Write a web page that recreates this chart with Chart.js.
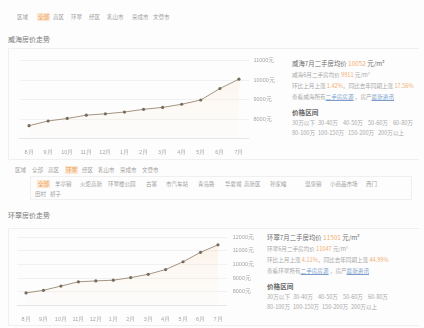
<!DOCTYPE html>
<html>
<head>
<meta charset="utf-8">
<script src="https://cdn.jsdelivr.net/npm/chart.js@4"></script>
<style>
  body { margin: 0; width: 424px; height: 328px; background: #fdfdfd; position: relative; overflow: hidden;
         font-family: "Noto Sans CJK SC", sans-serif; color: #8a8a8a; }
  .abs { position: absolute; white-space: nowrap; line-height: 1; }
  .nav span { position: absolute; font-size: 5.5px; color: #a0a0a0; }
  .nav .on { background: #fbe6d0; color: #eb9a55; padding: 0 1px; }
  .title { font-size: 7px; color: #7a7a7a; }
  .panel { position: absolute; border: 1px solid #f0f0f0; border-right: none; }
  .info div { position: absolute; font-size: 5.6px; color: #a8a8a8; white-space: nowrap; }
  .info .big { font-size: 6.4px; color: #6e6e6e; }
  .info .or { color: #f2ad72; }
  .info .lk { color: #7c9dcc; text-decoration: underline; }
  .info .hd { font-size: 6.6px; color: #666; font-weight: bold; }
  canvas { position: absolute; }
</style>
</head>
<body>
<div class="nav" id="nav1"></div>
<div class="abs title" style="left:8px;top:36px;">威海房价走势</div>
<div class="panel" style="left:8px;top:48px;width:410px;height:110px;"></div>
<canvas id="chart1" width="276" height="110" style="left:8px;top:48px;"></canvas>
<div class="info">
  <div class="big" style="left:292px;top:59px;">威海7月二手房均价 <span class="or">10052</span> 元/m²</div>
  <div style="left:292px;top:71px;">威海6月二手房均价 <span class="or">9911</span> 元/m²</div>
  <div style="left:292px;top:82px;">环比上月上涨 <span class="or">1.42%</span>，同比去年同期上涨 <span class="or">17.56%</span></div>
  <div style="left:292px;top:93px;">查看威海所有<span class="lk">二手房房源</span> ，房产<span class="lk">最新资讯</span></div>
  <div class="hd" style="left:292px;top:107px;">价格区间</div>
  <div style="left:292px;top:119px;">30万以下</div>
  <div style="left:318px;top:119px;">30-40万</div>
  <div style="left:343px;top:119px;">40-50万</div>
  <div style="left:368px;top:119px;">50-60万</div>
  <div style="left:393px;top:119px;">60-80万</div>
  <div style="left:292px;top:129px;">80-100万</div>
  <div style="left:318px;top:129px;">100-150万</div>
  <div style="left:348px;top:129px;">150-200万</div>
  <div style="left:378px;top:129px;">200万以上</div>
</div>

<div class="nav" id="nav2"></div>
<div class="panel" style="left:30px;top:176px;width:380px;height:22px;border-right:1px solid #f0f0f0;"></div>
<div class="nav" id="nav3"></div>
<div class="abs title" style="left:8px;top:212px;">环翠房价走势</div>
<div class="panel" style="left:8px;top:228px;width:410px;height:96px;"></div>
<canvas id="chart2" width="250" height="94" style="left:8px;top:228px;"></canvas>
<div class="info">
  <div class="big" style="left:267px;top:233px;">环翠7月二手房均价 <span class="or">11501</span> 元/m²</div>
  <div style="left:267px;top:245px;">环翠6月二手房均价 <span class="or">11047</span> 元/m²</div>
  <div style="left:267px;top:256px;">环比上月上涨 <span class="or">4.11%</span>，同比去年同期上涨 <span class="or">44.99%</span></div>
  <div style="left:267px;top:267px;">查看环翠所有<span class="lk">二手房房源</span> ，房产<span class="lk">最新资讯</span></div>
  <div class="hd" style="left:267px;top:281px;">价格区间</div>
  <div style="left:267px;top:293px;">30万以下</div>
  <div style="left:293px;top:293px;">30-40万</div>
  <div style="left:318px;top:293px;">40-50万</div>
  <div style="left:343px;top:293px;">50-60万</div>
  <div style="left:368px;top:293px;">60-80万</div>
  <div style="left:267px;top:303px;">80-100万</div>
  <div style="left:293px;top:303px;">100-150万</div>
  <div style="left:322px;top:303px;">150-200万</div>
  <div style="left:351px;top:303px;">200万以上</div>
</div>

<script>
// 区域导航
const areas = ["区域", "全部", "高区", "环翠", "经区", "乳山市", "荣成市", "文登市"];
const nav1X = [17, 37, 53, 71, 89, 107, 132, 153];
const nav2X = [15, 32, 48, 65, 82, 98, 120, 142];
const subAreas = ["全部", "羊亭镇", "火炬高新", "环翠楼公园", "古寨", "市汽车站", "青岛路", "华夏城", "高新区", "孙家疃", "温泉镇", "小商品市场", "西门", "田村", "桥子"];
const subX = [37, 55, 80, 108, 146, 166, 198, 225, 244, 270, 305, 330, 366, 35, 50];

// 房价数据 (元/m²)
const months = ["8月", "9月", "10月", "11月", "12月", "1月", "2月", "3月", "4月", "5月", "6月", "7月"];
const weihaiPrice = [7660, 7900, 8030, 8200, 8270, 8360, 8500, 8600, 8760, 8980, 9570, 10052];
const huancuiPrice = [7930, 8120, 8430, 8740, 8810, 8860, 9050, 9290, 9640, 10210, 10900, 11450];
const weihaiTicks = [8000, 9000, 10000, 11000];
const huancuiTicks = [8000, 9000, 10000, 11000, 12000];

function fillNav(id, items, xs, top, onIndex) {
  const el = document.getElementById(id);
  items.forEach((t, i) => {
    const s = document.createElement("span");
    s.textContent = t;
    s.style.left = xs[i] + "px";
    s.style.top = (typeof top === "function" ? top(i) : top) + "px";
    if (i === onIndex) s.className = "on";
    el.appendChild(s);
  });
}
fillNav("nav1", areas, nav1X, 13, 1);
fillNav("nav2", areas, nav2X, 166, 3);
fillNav("nav3", subAreas, subX, (i) => (i < 13 ? 180 : 190), 0);

// 折线下方的渐变填充
function peachFill(context) {
  const area = context.chart.chartArea;
  if (!area) return "rgba(250, 215, 175, 0.15)";
  const g = context.chart.ctx.createLinearGradient(0, area.top, 0, area.bottom);
  g.addColorStop(0, "rgba(248, 200, 150, 0.22)");
  g.addColorStop(1, "rgba(252, 235, 215, 0.05)");
  return g;
}

function makeChart(id, prices, ticks, opts) {
  const ctx = document.getElementById(id).getContext("2d");
  return new Chart(ctx, {
    type: "line",
    data: {
      labels: months,
      datasets: [
        {
          data: prices,
          borderColor: "#a39480",
          borderWidth: 1,
          backgroundColor: peachFill,
          fill: "start",
          tension: 0,
          pointRadius: 1.6,
          pointBackgroundColor: "#776b5e",
          pointBorderWidth: 0,
        },
      ],
    },
    options: {
      responsive: false,
      animation: false,
      layout: { padding: { left: opts.left, top: opts.top, right: 0, bottom: 0 } },
      plugins: { legend: { display: false }, tooltip: { enabled: false } },
      scales: {
        x: {
          offset: true,
          grid: { display: false },
          border: { color: "#e6e6e6" },
          ticks: { color: "#a5a5a5", font: { size: 5.5 }, padding: 3, maxRotation: 0, autoSkip: false },
          afterFit: (s) => { s.height = opts.xh; },
        },
        y: {
          position: "right",
          min: 7000,
          max: ticks[ticks.length - 1],
          grid: { color: "#f1f1f1", drawTicks: false },
          border: { display: false },
          afterBuildTicks: (s) => { s.ticks = [7000].concat(ticks).map((v) => ({ value: v })); },
          ticks: {
            color: "#a5a5a5",
            font: { size: 5.5 },
            padding: opts.tp,
            callback: (v) => (v === 7000 ? "" : v + "元"),
          },
          afterFit: (s) => { s.width = opts.yw; },
        },
      },
    },
  });
}

makeChart("chart1", weihaiPrice, weihaiTicks, { left: 11.5, top: 12.7, xh: 19.5, yw: 35.5, tp: 5 });
makeChart("chart2", huancuiPrice, huancuiTicks, { left: 9.3, top: 8, xh: 16.4, yw: 31.3, tp: 6 });
</script>
</body>
</html>
